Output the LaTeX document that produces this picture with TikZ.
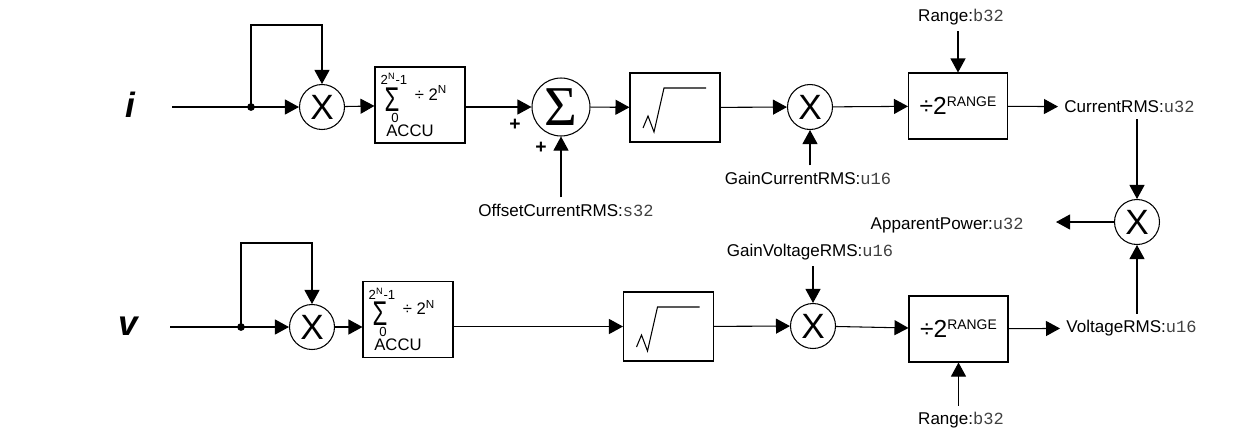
\documentclass[tikz,border=0pt]{standalone}
\usepackage{fontspec}
\setmainfont{Liberation Sans}
\newfontfamily\monofont{Liberation Mono}
\newfontfamily\symfont{Liberation Serif}
\usetikzlibrary{positioning,arrows.meta}

\newcommand{\mono}[1]{{\monofont\color{black!75}#1}}
\newcommand{\rangetext}{{\fontsize{14}{14}\selectfont ÷2}\raisebox{4.6pt}{\fontsize{7.9}{8}\selectfont RANGE}}

\begin{document}
\begin{tikzpicture}[x=0.02cm,y=-0.02cm,line width=0.6pt,font=\fontsize{9.7}{11.6}\selectfont,
  arr/.style={-{Triangle[length=0.28cm,width=0.3cm]}},
  mult/.style={draw,circle,minimum size=0.9cm,inner sep=0pt,font=\fontsize{20}{20}\selectfont},
  sumc/.style={draw,circle,minimum size=1.16cm,inner sep=0pt,font=\symfont\fontsize{32}{32}\selectfont},
  accubox/.style={draw,minimum width=1.8cm,minimum height=1.52cm,inner sep=0pt},
  small/.style={inner sep=0pt,font=\fontsize{7.5}{7.5}\selectfont},
  sqbox/.style={draw,minimum width=1.8cm,minimum height=1.38cm},
  rngbox/.style={draw,minimum width=1.98cm,minimum height=1.32cm,inner sep=0pt},
  sig/.style={font=\bfseries\itshape\fontsize{20}{20}\selectfont},
  plus/.style={font=\bfseries\fontsize{11}{11}\selectfont}]
  \useasboundingbox (0,0) rectangle (1250,434);

  % current channel
  \node[sig] (isig) at (130,105) {i};
  \coordinate (iin) at (172,107);
  \coordinate (ijn) at (251,107);
  \coordinate (ifb) at (251,25);
  \node[mult] (im1) at (322,107) {X};
  \node[accubox] (iacc) at (420,105) {};
  \node[sumc] (isum) at (561,107) {Σ};
  \node[plus] (ipa) at (515,125) {+};
  \node[plus] (ipb) at (541,148) {+};
  \node[sqbox] (isq) at (675,107.5) {};
  \node[mult] (im2) at (810,107) {X};
  \node[rngbox] (irng) at (958,106) {\rangetext};
  \node (ioff) at (566,210) {OffsetCurrentRMS:\mono{s32}};
  \node (igain) at (808,178) {GainCurrentRMS:\mono{u16}};
  \node (irngl) at (961,17) {Range:\mono{b32}};
  \node[anchor=west] (iout) at (1058,107) {CurrentRMS:\mono{u32}};

  \draw (iin) -- (ijn);
  \fill (ijn) circle (2.2pt);
  \draw[arr] (ijn) -- (im1);
  \draw[arr] (ijn) -- (ifb) -| (im1);
  \draw[arr] (im1) -- (iacc);
  \draw[arr] (iacc.east |- isum) -- (isum);
  \draw[arr] (isum |- ioff.north) -- (isum);
  \draw[arr] (isum) -- (isq);
  \draw[arr] (isq) -- (im2);
  \draw[arr] (im2 |- igain.north) -- (im2);
  \draw[arr] (im2) -- (irng);
  \draw[arr] (irng |- irngl.south) -- (irng);
  \draw[arr] (irng) -- (iout);

  % voltage channel
  \node[sig] (vsig) at (128,326) {v};
  \coordinate (vin) at (170,327);
  \coordinate (vjn) at (241,327);
  \coordinate (vfb) at (241,243);
  \node[mult] (vm1) at (312,327) {X};
  \node[accubox] (vacc) at (408,319.5) {};
  \node[sqbox] (vsq) at (668.5,326.5) {};
  \node[mult] (vm2) at (813,326) {X};
  \node[rngbox] (vrng) at (958.5,329) {\rangetext};
  \node (vgain) at (810,252) {GainVoltageRMS:\mono{u16}};
  \node (vrngl) at (961,420) {Range:\mono{b32}};
  \node[anchor=west] (vout) at (1060,328) {VoltageRMS:\mono{u16}};

  \draw (vin) -- (vjn);
  \fill (vjn) circle (2.2pt);
  \draw[arr] (vjn) -- (vm1);
  \draw[arr] (vjn) -- (vfb) -| (vm1);
  \draw[arr] (vm1) -- (vacc.west |- vm1);
  \draw[arr] (vacc.east |- vsq) -- (vsq);
  \draw[arr] (vsq) -- (vm2);
  \draw[arr] (vm2 |- vgain.south) -- (vm2);
  \draw[arr] (vm2) -- (vrng);
  \draw[arr] (vrng |- vrngl.north) -- (vrng);
  \draw[arr] (vrng) -- (vout);

  % accumulator contents and square-root marks
  \foreach \b in {iacc,vacc}{
    \node[small] (\b-top) at ([shift={(-26,-26)}]\b.center) {2\textsuperscript{N}-1};
    \node[inner sep=0pt,font=\fontsize{17}{17}\selectfont] (\b-sig) at ([shift={(-28,-5.5)}]\b.center) {\scalebox{0.8}[1.15]{Σ}};
    \node[small] (\b-bot) at ([shift={(-25,12.5)}]\b.center) {0};
    \node[inner sep=0pt,font=\fontsize{9.5}{9.5}\selectfont] (\b-div) at ([shift={(11,-12)}]\b.center) {÷ 2\textsuperscript{N}};
    \node[inner sep=0pt,font=\fontsize{9.5}{9.5}\selectfont] (\b-name) at ([shift={(-10,25.5)}]\b.center) {ACCU};
  }
  \foreach \b in {isq,vsq}
    \draw[shift={(\b.center)}] (-32,20.5) -- (-27,8.5) -- (-21,24.5) -- (-11,-19.5) -- (31,-19.5);

  % apparent power
  \node[mult] (pm) at (1137,222) {X};
  \node[anchor=east] (pout) at (1030,225) {ApparentPower:\mono{u32}};
  \coordinate (ptip) at (1056,222);
  \draw[arr] (pm |- iout.south) -- (pm);
  \draw[arr] (pm |- vout.north) -- (pm);
  \draw[arr] (pm) -- (ptip);
\end{tikzpicture}
\end{document}
